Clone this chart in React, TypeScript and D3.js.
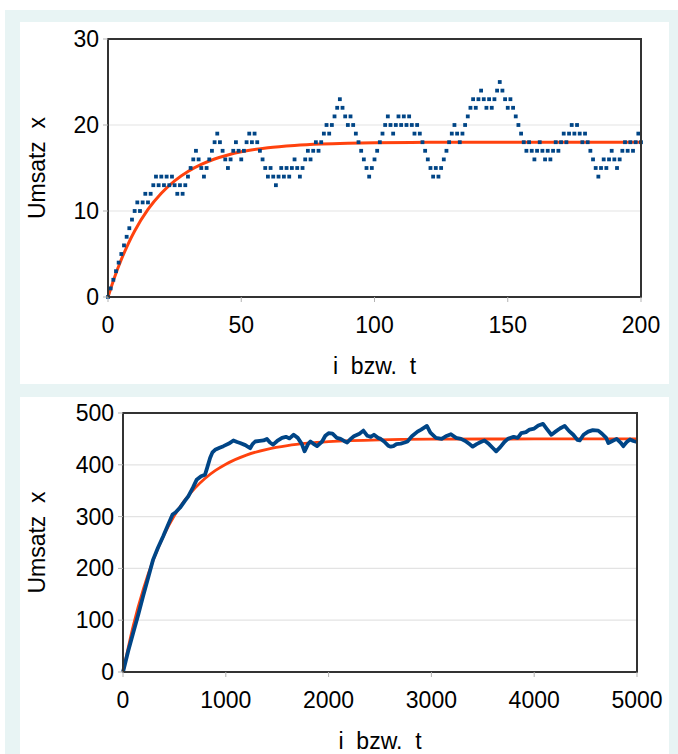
import * as d3 from "d3";

// top chart: one simulated value per step i = 0..200
const stepValues = [
  0, 1, 2, 3, 4, 5, 6, 7, 8, 9, 10, 11, 10, 11, 12, 11, 12, 13, 14, 13,
  14, 13, 14, 13, 14, 13, 12, 13, 12, 13, 14, 15, 16, 17, 16, 15, 14, 15, 16, 17,
  18, 19, 18, 17, 16, 15, 16, 17, 18, 17, 16, 17, 18, 19, 18, 19, 18, 17, 16, 15,
  14, 15, 14, 13, 14, 15, 14, 15, 14, 15, 16, 15, 14, 15, 16, 17, 16, 17, 18, 17,
  18, 19, 20, 19, 20, 21, 22, 23, 22, 21, 20, 21, 20, 19, 18, 17, 16, 15, 14, 15,
  16, 17, 18, 19, 20, 21, 20, 19, 20, 21, 20, 21, 20, 21, 20, 19, 20, 19, 18, 17,
  16, 15, 14, 15, 14, 15, 16, 17, 18, 19, 20, 19, 18, 19, 20, 21, 22, 23, 22, 23,
  24, 23, 22, 23, 22, 23, 24, 25, 24, 23, 22, 23, 22, 21, 20, 19, 18, 17, 18, 17,
  16, 17, 18, 17, 16, 17, 16, 17, 18, 17, 18, 19, 18, 19, 20, 19, 20, 19, 18, 19,
  18, 17, 16, 15, 14, 15, 16, 15, 16, 17, 16, 15, 16, 17, 18, 17, 18, 17, 18, 19,
  18,
];

const topCurveT = [0, 2.5, 5, 7.5, 10, 15, 20, 25, 30, 35, 40, 45, 50, 60, 70, 80, 90, 100, 120, 150, 200];
const topCurveX = [0, 2.33, 4.36, 6.13, 7.67, 10.18, 12.07, 13.51, 14.6, 15.42, 16.05, 16.52, 16.88, 17.36, 17.63, 17.79, 17.88, 17.93, 17.98, 18, 18];

const walkT = [
  0, 50, 98, 150, 195, 250, 293, 340, 391, 440, 482, 510, 554, 600, 635, 680, 716, 760, 798, 820,
  847, 870, 896, 940, 977, 1030, 1074, 1110, 1139, 1190, 1237, 1260, 1286, 1330, 1367, 1400, 1430, 1460, 1500, 1547,
  1585, 1620, 1660, 1700, 1740, 1766, 1800, 1823, 1850, 1888, 1937, 1968, 2000, 2038, 2080, 2116, 2150, 2181, 2215, 2246,
  2300, 2338, 2377, 2410, 2441, 2480, 2507, 2540, 2580, 2604, 2630, 2660, 2702, 2740, 2767, 2810, 2865, 2900, 2956, 2990,
  3044, 3100, 3140, 3190, 3240, 3288, 3330, 3370, 3402, 3440, 3480, 3516, 3560, 3600, 3630, 3670, 3710, 3744, 3800, 3840,
  3874, 3920, 3955, 4000, 4040, 4086, 4120, 4167, 4200, 4250, 4297, 4340, 4380, 4420, 4443, 4480, 4525, 4570, 4623, 4660,
  4700, 4721, 4760, 4802, 4840, 4867, 4900, 4932, 4965, 5000,
];
const walkX = [
  0, 40, 75, 112, 146, 186, 217, 240, 262, 285, 304, 308, 317, 330, 339, 356, 371, 378, 381, 395,
  413, 424, 429, 433, 436, 441, 447, 444, 442, 438, 432, 440, 445, 446, 447, 450, 443, 439, 446, 452,
  454, 451, 458, 452, 440, 426, 440, 445, 441, 436, 445, 456, 461, 460, 452, 450, 446, 443, 450, 455,
  460, 466, 456, 454, 458, 452, 450, 445, 437, 435, 436, 440, 441, 443, 445, 455, 464, 468, 475, 462,
  452, 450, 455, 459, 452, 450, 446, 440, 435, 440, 444, 447, 440, 432, 426, 434, 444, 450, 454, 452,
  461, 463, 468, 470, 476, 479, 470, 458, 463, 470, 475, 465, 458, 448, 447, 458, 464, 467, 466, 460,
  452, 442, 446, 450, 443, 436, 444, 449, 446, 444,
];

// bottom chart: expected curve
const botCurveT = [0, 100, 200, 300, 400, 500, 600, 700, 800, 900, 1000, 1200, 1400, 1600, 1800, 2000, 2500, 3000, 4000, 5000];
const botCurveX = [0, 89.7, 161.5, 219, 265, 301.9, 331.4, 355, 374, 389.1, 401.2, 418.7, 429.9, 437.1, 441.7, 444.7, 448.3, 449.4, 449.9, 450];

const topXTicks = [0, 50, 100, 150, 200];
const topYTicks = [0, 10, 20, 30];
const botXTicks = [0, 1000, 2000, 3000, 4000, 5000];
const botYTicks = [0, 100, 200, 300, 400, 500];

const yLabel = "Umsatz  x";
const xLabel = "i  bzw.  t";

const BLUE = "#004586";
const ORANGE = "#ff420e";
const FONT = "'Liberation Sans', Arial, sans-serif";
const FS = 23;

type PanelProps = {
  x: d3.ScaleLinear<number, number>;
  y: d3.ScaleLinear<number, number>;
  xTicks: number[];
  yTicks: number[];
  xTitleY: number;
  yTitleX: number;
  children?: React.ReactNode;
};

function Frame({ x, y, xTicks, yTicks, xTitleY, yTitleX, children }: PanelProps) {
  const [x0, x1] = x.range();
  const [y0, y1] = y.range();
  return (
    <g>
      {yTicks.slice(1, -1).map((t) => (
        <line key={"g" + t} x1={x0} x2={x1} y1={y(t)} y2={y(t)} stroke="#e3e3e3" strokeWidth={1.2} />
      ))}
      {children}
      <rect x={x0} y={y1} width={x1 - x0} height={y0 - y1} fill="none" stroke="#333" strokeWidth={2} />
      {yTicks.map((t) => (
        <g key={"y" + t}>
          <line x1={x0 - 5} x2={x0} y1={y(t)} y2={y(t)} stroke="#b3b3b3" />
          <text x={x0 - 9} y={y(t) + 8} textAnchor="end" fontSize={FS} fontFamily={FONT}>
            {t}
          </text>
        </g>
      ))}
      {xTicks.map((t) => (
        <g key={"x" + t}>
          <line x1={x(t)} x2={x(t)} y1={y0} y2={y0 + 5} stroke="#b3b3b3" />
          <text x={x(t)} y={y0 + 36} textAnchor="middle" fontSize={FS} fontFamily={FONT}>
            {t}
          </text>
        </g>
      ))}
      <text x={(x0 + x1) / 2} y={xTitleY} textAnchor="middle" fontSize={FS} fontFamily={FONT} style={{ whiteSpace: "pre" }}>
        {xLabel}
      </text>
      <text
        transform={`translate(${yTitleX},${(y0 + y1) / 2}) rotate(-90)`}
        textAnchor="middle"
        fontSize={FS}
        fontFamily={FONT}
        style={{ whiteSpace: "pre" }}
      >
        {yLabel}
      </text>
    </g>
  );
}

export default function App() {
  const xTop = d3.scaleLinear().domain([0, 200]).range([108, 641]);
  const yTop = d3.scaleLinear().domain([0, 30]).range([297, 39]);
  const xBot = d3.scaleLinear().domain([0, 5000]).range([123, 637]);
  const yBot = d3.scaleLinear().domain([0, 500]).range([672, 413]);

  const topCurve = d3
    .line<number>()
    .x((_, i) => xTop(topCurveT[i]))
    .y((d) => yTop(d))
    .curve(d3.curveMonotoneX)(topCurveX);
  const botCurve = d3
    .line<number>()
    .x((_, i) => xBot(botCurveT[i]))
    .y((d) => yBot(d))
    .curve(d3.curveMonotoneX)(botCurveX);
  const walk = d3
    .line<number>()
    .x((_, i) => xBot(walkT[i]))
    .y((d) => yBot(d))(walkX);

  const sq = 3.8;

  return (
    <div style={{ position: "absolute", left: 0, top: 0 }}>
      <svg width={678} height={754} style={{ display: "block" }}>
        <rect x={5} y={10} width={673} height={744} fill="#e8f4f4" />
        <rect x={20} y={22} width={649} height={362} fill="#fff" />
        <rect x={20} y={397} width={649} height={357} fill="#fff" />

        <Frame x={xTop} y={yTop} xTicks={topXTicks} yTicks={topYTicks} xTitleY={374} yTitleX={45}>
          <path d={topCurve ?? ""} fill="none" stroke={ORANGE} strokeWidth={3} />
          {stepValues.map((v, i) => (
            <rect key={i} x={xTop(i) - sq / 2} y={yTop(v) - sq / 2} width={sq} height={sq} fill={BLUE} />
          ))}
        </Frame>

        <Frame x={xBot} y={yBot} xTicks={botXTicks} yTicks={botYTicks} xTitleY={749} yTitleX={45}>
          <path d={botCurve ?? ""} fill="none" stroke={ORANGE} strokeWidth={2.8} />
          <path d={walk ?? ""} fill="none" stroke={BLUE} strokeWidth={3.8} strokeLinejoin="round" />
        </Frame>
      </svg>
    </div>
  );
}
